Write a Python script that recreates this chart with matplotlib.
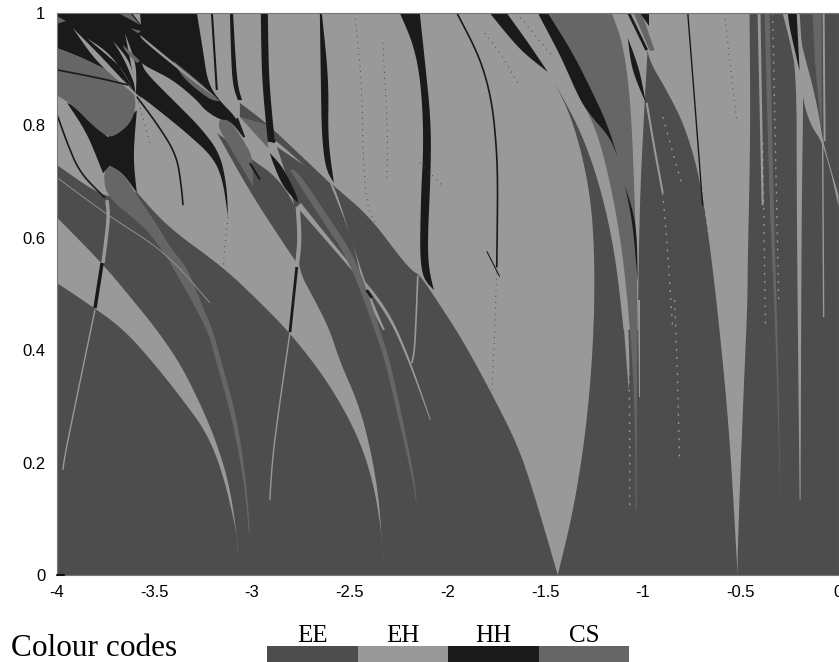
import math
import matplotlib
matplotlib.use('Agg')
from matplotlib import pyplot as plt
from matplotlib.patches import Rectangle

EE = '#4d4d4d'
EH = '#999999'
HH = '#1a1a1a'
CS = '#666666'

# regions, (coupling, y) pairs
eh_main = [(-4,1),(-0.966,1),(-0.991,.845),(-1.017,.667),(-1.027,.436),(-1.247,.436),(-1.247,.489),(-1.262,.370),
           (-1.298,.240),(-1.359,.110),(-1.436,0),(-2.331,.021),(-2.336,.075),(-2.382,.169),(-2.464,.253),
           (-2.617,.347),(-2.806,.431),(-2.970,.489),(-3.149,.548),(-3.435,.620),(-3.589,.681),(-3.742,.667),(-4,.730)]
eh_band1 = [(-4,.520),(-3.865,.489),(-3.660,.439),(-3.486,.370),(-3.353,.311),(-3.231,.253),(-3.149,.181),(-3.077,.075),
            (-3.072,.039),(-3.072,.057),(-3.113,.157),(-3.180,.235),(-3.266,.306),(-3.369,.377),(-3.486,.436),
            (-3.609,.489),(-3.767,.555),(-4,.637)]
eh_wedge = [(-1.002,1),(-.455,1),(-.450,.787),(-.465,.548),(-.465,.489),(-.491,.281),(-.516,.044),(-.516,0),
            (-.557,.253),(-.623,.489),(-.695,.685),(-.777,.792),(-.879,.863),(-.981,.922)]
ee_band3 = [(-2.331,0),(-1.436,0),(-1.543,.128),(-1.630,.222),(-1.748,.306),(-1.922,.418),(-2.055,.489),(-2.142,.534),
            (-2.177,.540),(-2.244,.566),(-2.397,.637),(-2.576,.691),(-2.602,.698),(-2.873,.762),(-2.771,.655),
            (-2.771,.548),(-2.679,.489),(-2.602,.436),(-2.551,.380),(-2.448,.299),(-2.382,.205),(-2.346,.121),(-2.331,.021)]
ee_band_f = [(-3.062,.840),(-2.924,.804),(-2.689,.726),(-2.602,.698),(-2.602,.691),(-2.668,.708),(-2.893,.779),(-3.062,.815)]
ee_lens = [(-3.180,.787),(-2.995,.672),(-2.771,.555),(-2.766,.609),(-2.771,.655),(-2.873,.708),(-2.995,.738)]
ee_stripe = [(-1.451,.875),(-1.375,.822),(-1.308,.744),(-1.262,.655),(-1.247,.548),(-1.252,.436),(-1.099,.436),
             (-1.134,.548),(-1.185,.644),(-1.257,.733),(-1.339,.804)]

cs_wedge = [(-1.487,1),(-1.160,1),(-1.103,.947),(-1.063,.845),(-1.042,.667),(-1.027,.489),(-1.032,.317),(-1.032,.116),
            (-1.037,.116),(-1.042,.317),(-1.078,.489),(-1.119,.609),(-1.185,.726),(-1.257,.810),(-1.400,.899)]
cs_blob = [(-4,.938),(-3.865,.920),(-3.660,.884),(-3.589,.852),(-3.609,.808),(-3.691,.783),(-3.737,.779),(-3.813,.799),
           (-3.916,.836),(-4,.854)]
cs_lobe = [(-3.660,.715),(-3.589,.676),(-3.486,.623),(-3.409,.578),(-3.333,.548),(-3.266,.489),(-3.200,.436),(-3.164,.388),
           (-3.077,.281),(-3.026,.157),(-3.011,.075),(-3.016,.075),(-3.036,.157),(-3.103,.281),(-3.190,.388),(-3.226,.436),
           (-3.404,.548),(-3.496,.596),(-3.573,.626),(-3.742,.672),(-3.762,.715),(-3.727,.728)]
cs_band3 = [(-2.771,.721),(-2.617,.641),(-2.464,.561),(-2.346,.436),(-2.295,.382),(-2.229,.276),(-2.167,.169),(-2.157,.121),
            (-2.177,.169),(-2.249,.276),(-2.320,.382),(-2.372,.436),(-2.505,.561),(-2.643,.632),(-2.806,.721)]
cs_mid = [(-3.164,.810),(-3.113,.810),(-3.046,.774),(-2.995,.744),(-2.995,.691),(-3.113,.762),(-3.175,.797)]
cs_top_lens = [(-3.404,.915),(-3.282,.881),(-3.164,.843),(-3.215,.845),(-3.353,.884)]
cs_tri = [(-3.062,.815),(-2.919,.801),(-2.919,.760)]
cs_sliver = [(-3.660,.943),(-3.573,.915),(-3.589,.911),(-3.650,.932)]
cs_top = [(-3.685,1),(-3.573,.979),(-3.624,1)]
cs_small = [(-3.624,.973),(-3.568,.968),(-3.583,.964)]
cs_left = [(-4,.995),(-3.952,.986),(-4,.980)]
cs_strip = [(-1.048,1),(-1.007,1),(-.940,.933),(-.966,.933)]
cs_r2 = [(-.378,1),(-.352,1),(-.332,.653),(-.312,.436),(-.296,.116),(-.322,.436),(-.352,.653)]
cs_r6 = [(-.133,1),(-.086,1),(-.086,.792),(-.097,.827),(-.122,.916)]

hh_main = [(-4,1),(-3.282,1),(-3.251,.934),(-3.226,.875),(-3.164,.843),(-3.077,.813),(-3.046,.779),(-3.103,.806),
           (-3.164,.810),(-3.241,.827),(-3.282,.845),(-3.404,.881),(-3.537,.904),(-3.563,.911),(-3.548,.895),
           (-3.369,.833),(-3.266,.797),(-3.164,.751),(-3.128,.690),(-3.123,.637),(-3.149,.703),(-3.200,.744),
           (-3.333,.786),(-3.435,.815),(-3.558,.849),(-3.589,.854),(-3.660,.884),(-3.865,.920),(-4,.938)]
hh_low = [(-3.946,.840),(-3.844,.787),(-3.762,.715),(-3.727,.728),(-3.660,.715),(-3.589,.680),(-3.609,.744),(-3.589,.827),
          (-3.737,.779),(-3.916,.836)]
hh_lens = [(-2.909,.751),(-2.842,.726),(-2.766,.672),(-2.766,.662),(-2.842,.691),(-2.893,.733)]
hh_b = [(-3.113,1),(-3.097,1),(-3.077,.875),(-3.051,.845),(-3.072,.845),(-3.103,.875)]
hh_c = [(-2.955,1),(-2.919,1),(-2.914,.881),(-2.883,.769),(-2.919,.771),(-2.950,.881)]
hh_d = [(-2.653,1),(-2.643,1),(-2.607,.881),(-2.612,.774),(-2.581,.698),(-2.622,.721),(-2.643,.779),(-2.648,.881)]
hh_e = [(-2.244,1),(-2.142,1),(-2.116,.916),(-2.085,.810),(-2.085,.721),(-2.106,.561),(-2.070,.507),(-2.142,.534),
        (-2.137,.667),(-2.121,.774),(-2.137,.881),(-2.177,.947)]
hh_g = [(-1.784,1),(-1.697,1),(-1.579,.943),(-1.487,.895),(-1.630,.934)]
hh_h = [(-1.538,1),(-1.487,1),(-1.359,.929),(-1.257,.858),(-1.185,.804),(-1.129,.744),(-1.170,.779),(-1.262,.815),
        (-1.323,.845),(-1.410,.916)]
hh_i = [(-1.017,1),(-.971,1),(-.971,.977)]
hh_k = [(-1.078,.956),(-1.017,.899),(-.986,.840),(-1.058,.899)]
hh_m = [(-1.093,.694),(-1.032,.626),(-1.027,.520),(-1.052,.626)]
hh_n = [(-.260,1),(-.214,1),(-.199,.897),(-.250,.973)]

eh_gap1 = [(-2.771,.655),(-2.535,.561),(-2.320,.472),(-2.207,.388),(-2.090,.276),(-2.085,.276),(-2.200,.392),(-2.312,.478),
           (-2.525,.564),(-2.750,.662)]
eh_gap2 = [(-2.602,.698),(-2.576,.691),(-2.464,.566),(-2.397,.498),(-2.320,.436),(-2.331,.436),(-2.423,.498),(-2.484,.596)]
eh_fan1 = [(-3.916,.973),(-3.778,.925),(-3.624,.867),(-3.594,.852),(-3.660,.872),(-3.803,.916)]
eh_fan2 = [(-3.844,.955),(-3.742,.932),(-3.660,.897),(-3.594,.854),(-3.665,.902),(-3.742,.925)]
eh_fan3 = [(-3.650,.964),(-3.589,.907),(-3.594,.854),(-3.624,.920)]
eh_fan4 = [(-3.711,.950),(-3.624,.915),(-3.594,.867),(-3.650,.916)]
eh_top = [(-3.614,1),(-3.573,1),(-3.568,.979)]
eh_diag = [(-3.573,.961),(-3.180,.849),(-3.282,.873),(-3.563,.952)]
eh_low_strip = [(-1.109,.489),(-1.083,.489),(-1.068,.382),(-1.073,.329)]
eh_strip639 = [(-1.027,.489),(-1.017,.489),(-1.017,.317),(-1.022,.317)]
eh_r1 = [(-.414,1),(-.399,1),(-.388,.769),(-.383,.658),(-.393,.658)]
eh_r4 = [(-.286,1),(-.199,1),(-.178,.890),(-.189,.653),(-.194,.133),(-.199,.133),(-.214,.653),(-.214,.890),(-.250,.952)]
eh_r5 = [(-.199,.890),(-.173,.831),(-.133,.795),(-.086,.772),(-.035,.712),(0,.655),(0,.676),(-.081,.772),(-.097,.813),
         (-.133,.872),(-.189,.943),(-.214,1)]
eh_r7 = [(-.081,1),(-.071,1),(-.066,.772),(-.076,.772)]

# thin curves
hh_lines = [
    ([-3.205,-3.180], [1,.863], 1.5),
    ([-4,-3.946,-3.880,-3.752], [.822,.769,.715,.671], 1.2),
    ([-4,-3.778,-3.635], [.899,.884,.872], 1.2),
    ([-3.767,-3.803], [.555,.475], 2.5),
    ([-2.771,-2.806], [.548,.432], 2),
    ([-3.589,-3.480,-3.385,-3.360,-3.353], [.851,.800,.747,.688,.658], 1.2),
    ([-1.952,-1.835,-1.773,-1.748,-1.743,-1.748], [1,.922,.845,.756,.685,.548], 1.2),
    ([-1.073,-.981], [1,.934], 2),
    ([-.771,-.736,-.695], [1,.845,.658], 1),
    ([-2.413,-2.387], [.507,.493], 2),
    ([-3.077,-3.040], [.813,.779], 1.5),
    ([-2.914,-2.883], [.785,.770], 2),
    ([-3.011,-2.960], [.733,.704], 1.5),
    ([-1.799,-1.733], [.576,.531], .8),
]
eh_lines = [
    ([-3.742,-3.732,-3.762], [.667,.637,.555], 2.5),
    ([-3.803,-3.957,-3.967], [.472,.215,.187], 1),
    ([-2.766,-2.755,-2.771], [.655,.596,.548], 3),
    ([-2.806,-2.893,-2.909], [.431,.222,.133], 1),
    ([-4,-3.742,-3.435,-3.215], [.708,.641,.573,.484], .6),
    ([-2.152,-2.167,-2.183], [.533,.400,.377], 1.2),
    ([-.981,-.940,-.899], [.840,.756,.680], 1.5),
    ([-.081,-.076], [.772,.459], 1),
]
dark_dots = [
    ([-2.474,-2.438,-2.433,-2.413,-2.361], [1,.875,.751,.655,.620]),
    ([-2.331,-2.305,-2.310], [.947,.787,.698]),
    ([-1.809,-1.717,-1.640], [.964,.922,.875]),
    ([-1.646,-1.461], [1,.922]),
    ([-.582,-.557,-.521], [1,.916,.810]),
    ([-3.589,-3.522], [.851,.769]),
    ([-1.748,-1.758,-1.773], [.548,.436,.329]),
    ([-2.142,-2.029], [.733,.694]),
    ([-3.123,-3.149,-3.149], [.637,.548,.507]),
]
light_dots = [
    ([-.899,-.874,-.848], [.680,.578,.436]),
    ([-.838,-.823,-.813], [.489,.347,.205]),
    ([-1.083,-1.068,-1.068], [.489,.311,.116]),
    ([-.899,-.797], [.815,.690]),
    ([-.695,-.660], [.685,.596]),
    ([-.337,-.316,-.306], [1,.653,.489]),
    ([-.388,-.373], [.769,.436]),
]

xticks = [-4,-3.5,-3,-2.5,-2,-1.5,-1,-.5,0]
xlabels = ['-4','-3.5','-3','-2.5','-2','-1.5','-1','-0.5','0']
yticks = [0,.2,.4,.6,.8,1]
ylabels = ['0','0.2','0.4','0.6','0.8','1']
code_names = ['EE','EH','HH','CS']
code_colors = [EE,EH,HH,CS]

W, H = 839, 662
plt.rcParams['font.family'] = ['Liberation Sans', 'DejaVu Sans']
fig = plt.figure(figsize=(W/100, H/100), dpi=100)
ax = fig.add_axes([56.5/W, (H-575)/H, 782/W, 562/H])
ax.set_facecolor(EE)

def round_off(pts, closed=True, rounds=3):
    # cut the soft corners of an outline, real tips and frame points stay sharp
    for _ in range(rounds):
        out = []
        n = len(pts)
        for i in range(n):
            p = pts[i]
            if not closed and (i == 0 or i == n-1):
                out.append(p)
                continue
            if p[0] == -4 or p[0] == 0 or p[1] == 0 or p[1] == 1:
                out.append(p)
                continue
            a = pts[i-1]
            b = pts[(i+1) % n]
            t1 = math.atan2((p[1]-a[1])*562, (p[0]-a[0])*195.5)
            t2 = math.atan2((b[1]-p[1])*562, (b[0]-p[0])*195.5)
            turn = abs((t2-t1+math.pi) % (2*math.pi)-math.pi)
            if turn > 1.0:
                out.append(p)
            else:
                out.append((.75*p[0]+.25*a[0], .75*p[1]+.25*a[1]))
                out.append((.75*p[0]+.25*b[0], .75*p[1]+.25*b[1]))
        pts = out
    return pts

def paint(shapes, colour):
    for pts in shapes:
        xs, ys = zip(*round_off(pts))
        ax.fill(xs, ys, color=colour, lw=0)

def bend(xs, ys):
    return zip(*round_off(list(zip(xs, ys)), closed=False))

def strokes(lines, colour):
    for xs, ys, w in lines:
        bx, by = bend(xs, ys)
        ax.plot(bx, by, color=colour, lw=w, solid_capstyle='butt')

paint([eh_main, eh_band1, eh_wedge], EH)
paint([ee_band3, ee_stripe, ee_lens, ee_band_f], EE)
paint([eh_gap1, eh_gap2, eh_low_strip, eh_strip639, eh_r1, eh_r4, eh_r5, eh_r7], EH)
paint([hh_main, hh_low], HH)
paint([cs_wedge, cs_blob, cs_lobe, cs_band3, cs_mid, cs_top_lens, cs_tri, cs_strip, cs_r2, cs_r6], CS)
paint([hh_lens, hh_b, hh_c, hh_d, hh_e, hh_g, hh_h, hh_i, hh_k, hh_m, hh_n], HH)
paint([eh_fan1, eh_fan2, eh_fan3, eh_fan4, eh_top, eh_diag], EH)
paint([cs_sliver, cs_top, cs_small, cs_left], CS)
strokes(eh_lines, EH)
strokes(hh_lines, HH)
for xs, ys in dark_dots:
    bx, by = bend(xs, ys)
    ax.plot(bx, by, color='#444444', lw=.7, ls=(0, (1, 5)))
for xs, ys in light_dots:
    bx, by = bend(xs, ys)
    ax.plot(bx, by, color='#a0a0a0', lw=.9, ls=(0, (1.5, 5)))

ax.set_xlim(-4, 0)
ax.set_ylim(0, 1)
ax.set_xticks(xticks)
ax.set_xticklabels(xlabels, fontsize=12)
ax.set_yticks(yticks)
ax.set_yticklabels(ylabels, fontsize=12)
ax.tick_params(length=0)
ax.tick_params(axis='x', pad=7)
ax.tick_params(axis='y', pad=8)
for s in ax.spines.values():
    s.set_color('#777777')
    s.set_linewidth(.8)
ax.plot([-4,-3.96], [0,0], color='k', lw=1.2, clip_on=False, zorder=5)

# colour codes strip below the axes
fig.text(11/W, (H-656)/H, 'Colour codes', family='Liberation Serif', fontsize=22.5)
left = 267
for name, colour in zip(code_names, code_colors):
    fig.add_artist(Rectangle((left/W, 0), 90.5/W, 16/H, transform=fig.transFigure, color=colour, lw=0))
    fig.text((left+45.5)/W, (H-642)/H, name, family='Liberation Serif', fontsize=18, ha='center')
    left += 90.5

fig.savefig('out.png', dpi=100)
